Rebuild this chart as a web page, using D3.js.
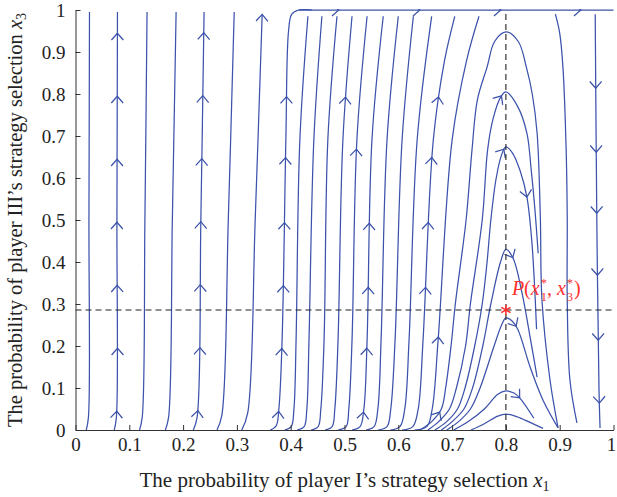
<!DOCTYPE html>
<html>
<head>
<meta charset="utf-8">
<script src="https://cdn.jsdelivr.net/npm/d3@7"></script>
<style>
  body { margin: 0; background: #fff; }
  text { font-family: "Liberation Serif", "DejaVu Serif", serif; }
</style>
</head>
<body>
<div id="container"></div>
<script>
/* CONSTANTS AND GLOBALS */
const width = 617;
const height = 497;
const margin = { top: 10, bottom: 67, left: 75.5, right: 3.5 };
const lineColor = "#3c52ab";

/* DATA ([x1, x3]) */
const xTicks = [0, 0.1, 0.2, 0.3, 0.4, 0.5, 0.6, 0.7, 0.8, 0.9, 1];
const yTicks = [0, 0.1, 0.2, 0.3, 0.4, 0.5, 0.6, 0.7, 0.8, 0.9, 1];
const eqPoint = [0.8, 0.2857];

// nearly vertical lines on the left
const leftLines = [
  [[0.020, 0], [0.024, 0.03], [0.025, 0.5], [0.026, 0.995]],
  [[0.072, 0], [0.076, 0.03], [0.077, 0.5], [0.078, 0.995]],
  [[0.119, 0], [0.124, 0.03], [0.129, 0.5], [0.133, 0.995]],
  [[0.167, 0], [0.173, 0.03], [0.180, 0.5], [0.187, 0.995]],
  [[0.219, 0], [0.226, 0.03], [0.233, 0.5], [0.239, 0.995]],
  [[0.263, 0], [0.272, 0.035], [0.284, 0.5], [0.295, 0.995]],
  [[0.309, 0], [0.320, 0.04], [0.334, 0.5], [0.347, 0.99]]
];

// lines leaving the bottom edge and rising to the top
const risingLines = [
  [[0.362, 0], [0.373, 0.01], [0.378, 0.05], [0.384, 0.214], [0.391, 0.69], [0.396, 0.95], [0.402, 0.99], [0.415, 1], [0.44, 1]],
  [[0.389, 0], [0.401, 0.008], [0.406, 0.05], [0.410, 0.214], [0.417, 0.69], [0.432, 0.985]],
  [[0.412, 0], [0.425, 0.008], [0.430, 0.05], [0.434, 0.214], [0.443, 0.69], [0.458, 0.985]],
  [[0.438, 0], [0.451, 0.008], [0.456, 0.05], [0.462, 0.214], [0.469, 0.69], [0.486, 0.985]],
  [[0.464, 0], [0.477, 0.008], [0.482, 0.05], [0.488, 0.214], [0.497, 0.69], [0.514, 0.985]],
  [[0.488, 0], [0.503, 0.008], [0.508, 0.05], [0.514, 0.214], [0.523, 0.69], [0.542, 0.985]],
  [[0.514, 0], [0.529, 0.008], [0.536, 0.05], [0.542, 0.214], [0.551, 0.69], [0.572, 0.985]],
  [[0.540, 0], [0.555, 0.008], [0.562, 0.05], [0.568, 0.214], [0.579, 0.69], [0.600, 0.985]],
  [[0.562, 0], [0.579, 0.008], [0.586, 0.05], [0.594, 0.214], [0.607, 0.69], [0.628, 0.985]],
  [[0.585, 0], [0.603, 0.008], [0.612, 0.05], [0.620, 0.214], [0.635, 0.69], [0.662, 0.985]],
  [[0.607, 0], [0.627, 0.008], [0.637, 0.05], [0.646, 0.214], [0.665, 0.69], [0.686, 0.88], [0.705, 0.985]],
  [[0.630, 0], [0.653, 0.008], [0.663, 0.05], [0.674, 0.214], [0.700, 0.69], [0.727, 0.88], [0.750, 0.985]]
];

// the edge x3 = 1, flowing right
const topLine = [[0.415, 1], [1, 1]];

// arches over x1 = 0.8
const humps = [
  [[0.64, 0], [0.662, 0.02], [0.68, 0.05], [0.688, 0.1], [0.698, 0.2], [0.706, 0.3], [0.726, 0.5], [0.737, 0.667], [0.747, 0.786], [0.765, 0.864], [0.779, 0.925], [0.8, 0.948], [0.823, 0.925], [0.838, 0.864], [0.849, 0.80], [0.858, 0.707], [0.864, 0.507], [0.867, 0.31], [0.882, 0.119], [0.897, 0.005]],
  [[0.655, 0], [0.675, 0.02], [0.695, 0.05], [0.708, 0.1], [0.725, 0.2], [0.734, 0.3], [0.756, 0.5], [0.766, 0.667], [0.776, 0.74], [0.79, 0.792], [0.8, 0.805], [0.822, 0.77], [0.839, 0.707], [0.847, 0.62], [0.854, 0.524], [0.86, 0.421]],
  [[0.668, 0], [0.69, 0.02], [0.71, 0.05], [0.724, 0.1], [0.742, 0.2], [0.756, 0.3], [0.765, 0.4], [0.772, 0.5], [0.782, 0.6], [0.792, 0.655], [0.8, 0.674], [0.812, 0.66], [0.826, 0.619], [0.839, 0.555], [0.848, 0.452], [0.853, 0.35], [0.857, 0.24]],
  [[0.68, 0], [0.70, 0.02], [0.722, 0.05], [0.738, 0.1], [0.757, 0.2], [0.772, 0.3], [0.79, 0.4], [0.8, 0.43], [0.813, 0.41], [0.83, 0.326], [0.845, 0.221], [0.858, 0.126]],
  [[0.69, 0], [0.712, 0.02], [0.734, 0.05], [0.752, 0.1], [0.778, 0.2], [0.792, 0.25], [0.8, 0.267], [0.811, 0.26], [0.822, 0.24], [0.845, 0.15], [0.869, 0.071], [0.897, 0.005]],
  [[0.703, 0], [0.73, 0.02], [0.76, 0.05], [0.785, 0.085], [0.8, 0.093], [0.815, 0.088], [0.826, 0.076], [0.852, 0.028]],
  [[0.735, 0], [0.76, 0.015], [0.785, 0.033], [0.8, 0.038], [0.82, 0.032], [0.845, 0.018], [0.869, 0.004]]
];

// descending lines on the right
const rightLines = [
  [[0.892, 0.99], [0.9, 0.945], [0.906, 0.864], [0.912, 0.667], [0.914, 0.507], [0.914, 0.31], [0.919, 0.119], [0.932, 0.017]],
  [[0.966, 0.99], [0.969, 0.5], [0.973, 0.1], [0.975, 0.005]]
];

// arrowheads, snapped to the nearest line
const arrowPts = [
  [0.076, 0.045], [0.076, 0.195], [0.077, 0.345], [0.077, 0.495], [0.077, 0.645], [0.078, 0.795], [0.078, 0.945],
  [0.227, 0.045], [0.229, 0.195], [0.231, 0.345], [0.233, 0.495], [0.235, 0.645], [0.237, 0.795], [0.239, 0.945],
  [0.378, 0.045], [0.384, 0.195], [0.386, 0.345], [0.388, 0.493], [0.390, 0.648], [0.392, 0.793],
  [0.347, 0.99],
  [0.529, 0.043], [0.538, 0.195], [0.542, 0.34], [0.546, 0.493], [0.523, 0.67], [0.501, 0.793],
  [0.678, 0.043], [0.672, 0.221], [0.651, 0.34], [0.657, 0.493], [0.664, 0.648], [0.672, 0.793],
  [0.789, 0.798], [0.793, 0.67], [0.839, 0.555], [0.813, 0.41], [0.822, 0.25], [0.826, 0.076],
  [0.968, 0.814], [0.968, 0.662], [0.969, 0.517], [0.970, 0.369], [0.971, 0.214], [0.973, 0.064],
  [0.49, 1], [0.64, 1], [0.79, 1], [0.94, 1]
];

/* SCALES */
const xScale = d3.scaleLinear().domain([0, 1]).range([margin.left, width - margin.right]);
const yScale = d3.scaleLinear().domain([0, 1]).range([height - margin.bottom, margin.top]);

const line = d3.line()
  .x(d => xScale(d[0]))
  .y(d => yScale(d[1]))
  .curve(d3.curveCatmullRom.alpha(0.5));

/* HTML ELEMENTS */
const svg = d3.select("#container")
  .append("svg")
  .attr("width", width)
  .attr("height", height)
  .style("display", "block");

// clip a little above x3 = 1 so the top line shows in full
svg.append("clipPath").attr("id", "plot")
  .append("rect")
  .attr("x", xScale(0)).attr("y", yScale(1) - 1)
  .attr("width", xScale(1) - xScale(0) + 4)
  .attr("height", yScale(0) - yScale(1) + 1);

const plot = svg.append("g").attr("clip-path", "url(#plot)");

const allLines = [].concat(leftLines, risingLines, [topLine], humps, rightLines);

const paths = plot.selectAll("path.traj")
  .data(allLines)
  .join("path")
  .attr("class", "traj")
  .attr("d", line)
  .attr("fill", "none")
  .attr("stroke", lineColor)
  .attr("stroke-width", 1.25);

// sample each path so arrowheads follow the curve direction
const samples = [];
paths.each(function () {
  const len = this.getTotalLength();
  const pts = [];
  for (let s = 0; s <= len; s += 1) {
    const p = this.getPointAtLength(s);
    pts.push([p.x, p.y]);
  }
  samples.push(pts);
});

function arrowPath(a) {
  const ax = xScale(a[0]), ay = yScale(a[1]);
  let best = null;
  samples.forEach(pts => {
    pts.forEach((p, k) => {
      const dd = (p[0] - ax) ** 2 + (p[1] - ay) ** 2;
      if (!best || dd < best.dd) best = { dd, pts, k };
    });
  });
  const pts = best.pts, k = best.k;
  const p0 = pts[Math.max(0, k - 3)], p1 = pts[Math.min(pts.length - 1, k + 3)];
  const ang = Math.atan2(p1[1] - p0[1], p1[0] - p0[0]);
  const tip = pts[k];
  const L = 9, spread = 0.72;
  const b1 = [tip[0] - L * Math.cos(ang - spread), tip[1] - L * Math.sin(ang - spread)];
  const b2 = [tip[0] - L * Math.cos(ang + spread), tip[1] - L * Math.sin(ang + spread)];
  return `M${b1[0]},${b1[1]}L${tip[0]},${tip[1]}L${b2[0]},${b2[1]}`;
}

plot.selectAll("path.arrow")
  .data(arrowPts)
  .join("path")
  .attr("class", "arrow")
  .attr("d", arrowPath)
  .attr("fill", "none")
  .attr("stroke", lineColor)
  .attr("stroke-width", 1.25);

// dashed guides through the equilibrium
svg.append("line")
  .attr("x1", xScale(0)).attr("x2", xScale(1))
  .attr("y1", yScale(eqPoint[1])).attr("y2", yScale(eqPoint[1]))
  .attr("stroke", "#222").attr("stroke-width", 1.1)
  .attr("stroke-dasharray", "6,4");

svg.append("line")
  .attr("x1", xScale(eqPoint[0])).attr("x2", xScale(eqPoint[0]))
  .attr("y1", yScale(0)).attr("y2", yScale(1))
  .attr("stroke", "#222").attr("stroke-width", 1.1)
  .attr("stroke-dasharray", "6,4");

svg.append("path")
  .attr("transform", `translate(${xScale(eqPoint[0])},${yScale(eqPoint[1])})`)
  .attr("d", d3.symbol(d3.symbolAsterisk, 80)())
  .attr("fill", "none")
  .attr("stroke", "#ff3030")
  .attr("stroke-width", 1.5);

// P(x1*, x3*) label
const pLabel = svg.append("text")
  .attr("x", xScale(eqPoint[0]) + 6)
  .attr("y", yScale(eqPoint[1]) - 15)
  .attr("fill", "#ff3030")
  .style("font-size", "20px");
pLabel.append("tspan").style("font-style", "italic").text("P");
pLabel.append("tspan").text("(");
pLabel.append("tspan").style("font-style", "italic").text("x");
pLabel.append("tspan").attr("dx", 1).attr("dy", -8).style("font-size", "12.5px").text("*");
pLabel.append("tspan").attr("dx", -6.3).attr("dy", 14).style("font-size", "12.5px").text("1");
pLabel.append("tspan").attr("dy", -6).text(", ");
pLabel.append("tspan").style("font-style", "italic").text("x");
pLabel.append("tspan").attr("dx", 1).attr("dy", -8).style("font-size", "12.5px").text("*");
pLabel.append("tspan").attr("dx", -6.3).attr("dy", 14).style("font-size", "12.5px").text("3");
pLabel.append("tspan").attr("dx", 1).attr("dy", -6).text(")");

/* AXES */
const fmt = d => String(d);
const xAxis = d3.axisBottom(xScale).tickValues(xTicks).tickFormat(fmt)
  .tickSizeInner(-5).tickSizeOuter(0).tickPadding(8);
const yAxis = d3.axisLeft(yScale).tickValues(yTicks).tickFormat(fmt)
  .tickSizeInner(-5).tickSizeOuter(0).tickPadding(10);

const gx = svg.append("g")
  .attr("transform", `translate(0,${height - margin.bottom})`)
  .call(xAxis);
const gy = svg.append("g")
  .attr("transform", `translate(${margin.left},0)`)
  .call(yAxis);

[gx, gy].forEach(g => {
  g.attr("font-family", null);
  g.selectAll("path, line").attr("stroke", "#333");
  g.selectAll("text")
    .attr("fill", "#222")
    .style("font-family", '"Liberation Serif", serif')
    .style("font-size", "19px");
});
// keep the last x tick label inside the picture
gx.selectAll(".tick text").filter(d => d === 1).attr("dx", -2.5);

const xLabel = svg.append("text")
  .attr("x", (xScale(0) + xScale(1)) / 2)
  .attr("y", 487)
  .attr("text-anchor", "middle")
  .attr("fill", "#222")
  .style("font-size", "21px");
xLabel.append("tspan").text("The probability of player I\u2019s strategy selection ");
xLabel.append("tspan").style("font-style", "italic").text("x");
xLabel.append("tspan").attr("dy", "0.3em").style("font-size", "14px").text("1");

const yLabel = svg.append("text")
  .attr("transform", `translate(22,${(yScale(0) + yScale(1)) / 2}) rotate(-90)`)
  .attr("text-anchor", "middle")
  .attr("fill", "#222")
  .style("font-size", "20.5px");
yLabel.append("tspan").text("The probability of player III\u2019s strategy selection ");
yLabel.append("tspan").style("font-style", "italic").text("x");
yLabel.append("tspan").attr("dy", "0.3em").style("font-size", "14px").text("3");
</script>
</body>
</html>
